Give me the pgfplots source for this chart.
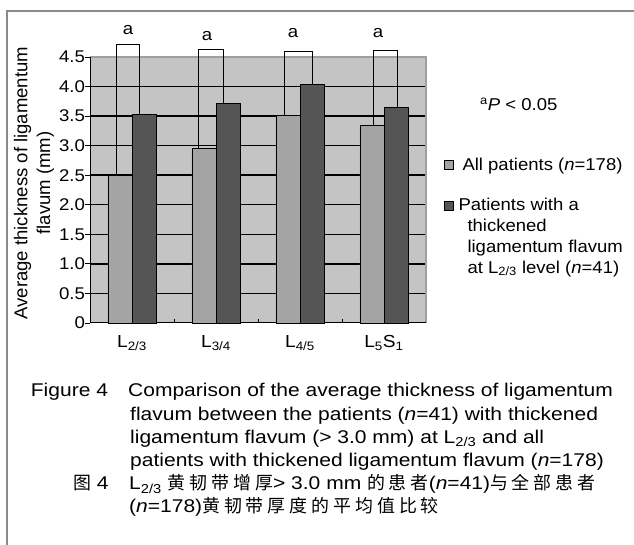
\documentclass[border=0pt]{standalone}
\usepackage{fontspec}
\setmainfont{Liberation Sans}
\newfontfamily\capfont{Liberation Sans}[FakeStretch=1.14]
\newfontfamily\tickfont{Liberation Sans}[FakeStretch=1.1]
\newfontfamily\legfont{Liberation Sans}[FakeStretch=1.08]
\newfontfamily\cjk{Noto Sans CJK SC}[LetterSpace=22]
\usepackage{pgfplots}
\pgfplotsset{compat=1.18}
\definecolor{bgc}{HTML}{C4C4C4}
\definecolor{lbar}{HTML}{A4A4A4}
\definecolor{dbar}{HTML}{555555}
\definecolor{framec}{HTML}{8A8A8A}
\begin{document}
\begin{tikzpicture}[x=1bp,y=1bp]
\useasboundingbox (0,0) rectangle (634,545);
\draw[framec, line width=2bp] (7.3,0) -- (7.3,533.7) -- (634,533.7);
% plot-area background and horizontal grid lines
\fill[bgc] (90,222) rectangle (426,488);
\fill[black] (90,250.8) rectangle (426,252.3);
\fill[black] (90,280.4) rectangle (426,281.9);
\fill[black] (90,309.9) rectangle (426,311.4);
\fill[black] (90,339.5) rectangle (426,341.0);
\fill[black] (90,369.0) rectangle (426,370.5);
\fill[black] (90,398.6) rectangle (426,400.1);
\fill[black] (90,428.1) rectangle (426,429.6);
\fill[black] (90,457.7) rectangle (426,459.2);
\draw[gray!75, line width=1.2bp] (90,488) -- (426,488) -- (426,222);
\begin{axis}[
  at={(90bp,222bp)}, anchor=south west,
  scale only axis, width=336bp, height=266bp,
  xmin=0.5, xmax=4.5, ymin=0, ymax=4.5,
  clip=false,
  axis lines*=left,
  axis line style={black, line width=1bp},
  tick align=outside,
  major tick length=5bp,
  tick style={black, line width=0.8bp},
  ytick={0,0.5,1,1.5,2,2.5,3,3.5,4,4.5},
  yticklabels={0,0.5,1.0,1.5,2.0,2.5,3.0,3.5,4.0,4.5},
  xtick={1,2,3,4},
  xticklabels={L\textsubscript{2/3},L\textsubscript{3/4},L\textsubscript{4/5},L\textsubscript{5}S\textsubscript{1}},
  x tick style={draw=none},
  xticklabel style={yshift=-4bp, font=\tickfont\fontsize{17.5}{20}\selectfont},
  yticklabel style={xshift=3.5bp, font=\tickfont\fontsize{17}{20}\selectfont},
  ylabel={Average thickness of ligamentum\\flavum (mm)},
  ylabel style={at={(axis description cs:-0.1667,0.526)}, anchor=center, align=center, font=\fontsize{18.6}{23}\selectfont},
  legend style={at={(axis description cs:1.0536,0.6278)}, anchor=north west, draw=none, fill=none, inner sep=0pt, outer sep=0pt, column sep=12.5bp, row sep=22bp, font=\legfont\fontsize{17.2}{21}\selectfont, cells={anchor=base west, align=left, inner sep=0pt}},
]
\addplot[ybar, bar width=0.286, bar shift=-0.143, fill=lbar, draw=black, line width=0.8bp,
  legend image code/.code={\draw[fill=lbar, draw=black, line width=0.5bp] (0bp,1.5bp) rectangle (8.5bp,10bp);}]
  coordinates {(1,2.49) (2,2.95) (3,3.51) (4,3.34)};
\addlegendentry{\hspace*{-5bp}All patients (\textit{n}=178)}
\addplot[ybar, bar width=0.286, bar shift=0.143, fill=dbar, draw=black, line width=0.8bp,
  legend image code/.code={\draw[fill=dbar, draw=black, line width=0.5bp] (0bp,63bp) rectangle (8.5bp,71.5bp);}]
  coordinates {(1,3.53) (2,3.71) (3,4.04) (4,3.65)};
\addlegendentry{\hspace*{-9bp}Patients with a\\thickened\\ligamentum flavum\\at L\textsubscript{2/3} level (\textit{n}=41)}
% significance brackets
\addplot[black, line width=1bp, forget plot] coordinates {(0.821,2.49) (0.821,4.71) (1.095,4.71) (1.095,3.53)};
\addplot[black, line width=1bp, forget plot] coordinates {(1.786,2.95) (1.786,4.63) (2.095,4.63) (2.095,3.71)};
\addplot[black, line width=1bp, forget plot] coordinates {(2.810,3.51) (2.810,4.60) (3.143,4.60) (3.143,4.04)};
\addplot[black, line width=1bp, forget plot] coordinates {(3.869,3.34) (3.869,4.61) (4.155,4.61) (4.155,3.65)};
\node[font=\tickfont\fontsize{17}{19}\selectfont, inner sep=0pt] at (axis cs:0.952,4.95) {a};
\node[font=\tickfont\fontsize{17}{19}\selectfont, inner sep=0pt] at (axis cs:1.893,4.86) {a};
\node[font=\tickfont\fontsize{17}{19}\selectfont, inner sep=0pt] at (axis cs:2.917,4.91) {a};
\node[font=\tickfont\fontsize{17}{19}\selectfont, inner sep=0pt] at (axis cs:3.929,4.90) {a};
\end{axis}
% small inward ticks between the categories
\fill[black] (173.5,222) rectangle (174.5,226);
\fill[black] (257.5,222) rectangle (258.5,226);
\fill[black] (341.5,222) rectangle (342.5,226);
\node[anchor=base west, inner sep=0pt, font=\legfont\fontsize{17.2}{21}\selectfont] at (480,434) {\textsuperscript{a}\textit{P} < 0.05};
\begin{scope}[every node/.style={anchor=base west, inner sep=0pt, font=\capfont\fontsize{18.5}{23}\selectfont}]
\node at (30.7,148) {Figure 4};
\node at (128,148) {Comparison of the average thickness of ligamentum};
\node at (130,124.8) {flavum between the patients (\textit{n}=41) with thickened};
\node at (130,101.6) {ligamentum flavum (> 3.0 mm) at L\textsubscript{2/3} and all};
\node at (130,78.4) {patients with thickened ligamentum flavum (\textit{n}=178)};
\node at (73,55.2) {{\cjk\fontsize{18}{20}\selectfont 图}\ 4};
\node at (129,55.2) {L\textsubscript{2/3} {\cjk\fontsize{18}{20}\selectfont 黄韧带增厚}> 3.0 mm {\cjk\fontsize{18}{20}\selectfont 的患者}(\textit{n}=41){\cjk\fontsize{18}{20}\selectfont 与全部患者}};
\node at (129,32) {(\textit{n}=178){\cjk\fontsize{18}{20}\selectfont 黄韧带厚度的平均值比较}};
\end{scope}
\end{tikzpicture}
\end{document}
